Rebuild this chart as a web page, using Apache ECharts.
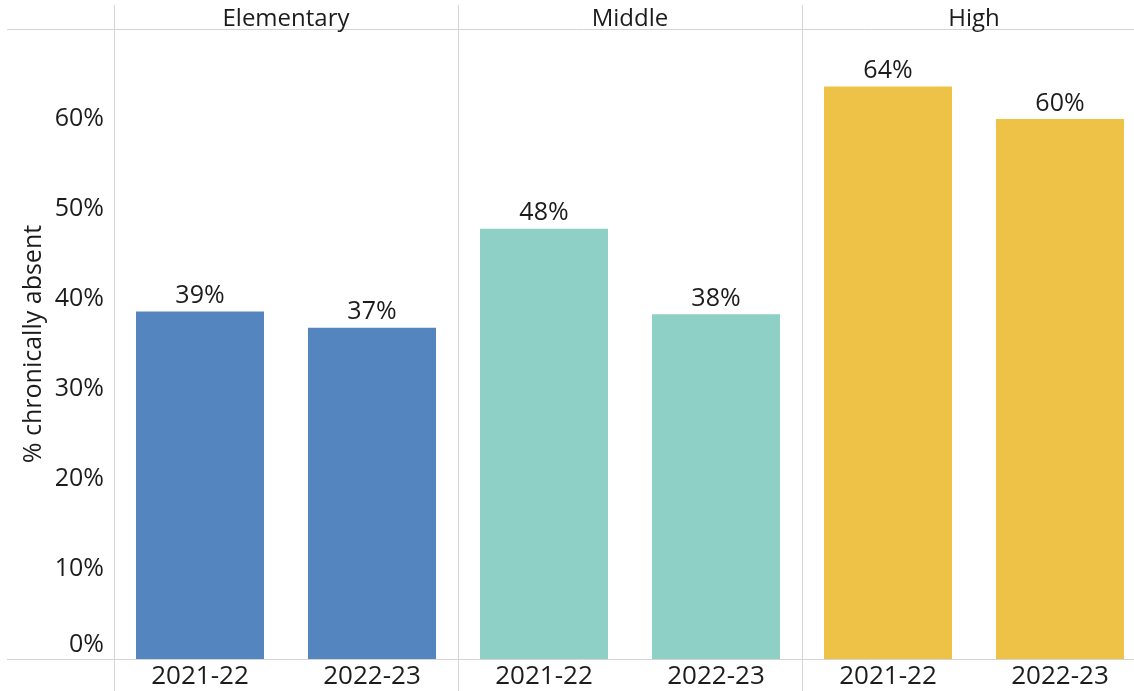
<!DOCTYPE html>
<html>
<head>
<meta charset="utf-8">
<script src="https://cdn.jsdelivr.net/npm/echarts@6/dist/echarts.min.js"></script>
<style>
html,body{margin:0;padding:0;background:#fff;overflow:hidden;width:1134px;height:691px;}
#chart{width:1160px;height:691px;}
</style>
</head>
<body>
<div id="chart"></div>
<script>
const panels = ['Elementary', 'Middle', 'High'];
const years = ['2021-22', '2022-23'];
const elementaryValues = [38.6, 36.8];
const middleValues = [47.8, 38.3];
const highValues = [63.6, 60.0];
const panelColors = ['#5485BE', '#8ED0C5', '#EEC247'];
const yTicks = [0, 10, 20, 30, 40, 50, 60, 70];

const panelValues = [elementaryValues, middleValues, highValues];
const FONT = '"Open Sans", sans-serif';
const TXT = '#1c1c1c';
const LINE = '#d4d4d4';

const gridLeft = 114, gridTop = 29, gridBottomY = 659, panelW = 344;

const grids = [], xAxes = [], yAxes = [], series = [];
panels.forEach((p, i) => {
  grids.push({left: gridLeft + i * panelW, width: panelW, top: gridTop, height: gridBottomY - gridTop, containLabel: false});
  xAxes.push({
    type: 'category', gridIndex: i, data: years, position: 'bottom',
    axisLine: {show: false}, axisTick: {show: false},
    axisLabel: {color: TXT, fontSize: 26, fontFamily: FONT, margin: 5}
  });
  xAxes.push({
    type: 'category', gridIndex: i, data: [p], position: 'top',
    axisLine: {show: false}, axisTick: {show: false},
    axisLabel: {color: TXT, fontSize: 24, fontFamily: FONT, margin: -2}
  });
  yAxes.push({
    type: 'value', gridIndex: i, min: 0, max: 70, interval: 10,
    show: i === 0,
    name: i === 0 ? '% chronically absent' : '',
    nameLocation: 'middle', nameGap: 68, nameRotate: 90,
    nameTextStyle: {color: TXT, fontSize: 25, fontFamily: FONT},
    axisLine: {show: false}, axisTick: {show: false}, splitLine: {show: false},
    axisLabel: {
      show: i === 0, color: TXT, fontSize: 25, fontFamily: FONT, margin: 10,
      formatter: v => yTicks.includes(v) && v < 70 ? (v === 0 ? '{z|0%}' : v + '%') : '',
      rich: {z: {color: TXT, fontSize: 25, fontFamily: FONT, padding: [0, 0, 28, 0]}}
    }
  });
  series.push({
    type: 'bar', xAxisIndex: i * 2, yAxisIndex: i,
    data: panelValues[i], barWidth: 128,
    itemStyle: {color: panelColors[i]},
    label: {show: true, position: 'top', distance: 3, color: TXT, fontSize: 25, fontFamily: FONT,
      formatter: d => Math.round(d.value) + '%'},
    silent: true
  });
});

const graphics = [
  {type: 'line', shape: {x1: 7, y1: gridTop + 0.5, x2: 1160, y2: gridTop + 0.5}, style: {stroke: LINE, lineWidth: 1}},
  {type: 'line', shape: {x1: 7, y1: gridBottomY + 0.5, x2: 1160, y2: gridBottomY + 0.5}, style: {stroke: LINE, lineWidth: 1}}
];
[0, 1, 2].forEach(i => {
  const x = gridLeft + i * panelW + 0.5;
  graphics.push({type: 'line', shape: {x1: x, y1: 5, x2: x, y2: 691}, style: {stroke: LINE, lineWidth: 1}});
});

const chart = echarts.init(document.getElementById('chart'), null, {renderer: 'canvas'});
chart.setOption({
  animation: false,
  backgroundColor: '#ffffff',
  grid: grids, xAxis: xAxes, yAxis: yAxes, series: series,
  graphic: graphics
});
</script>
</body>
</html>
